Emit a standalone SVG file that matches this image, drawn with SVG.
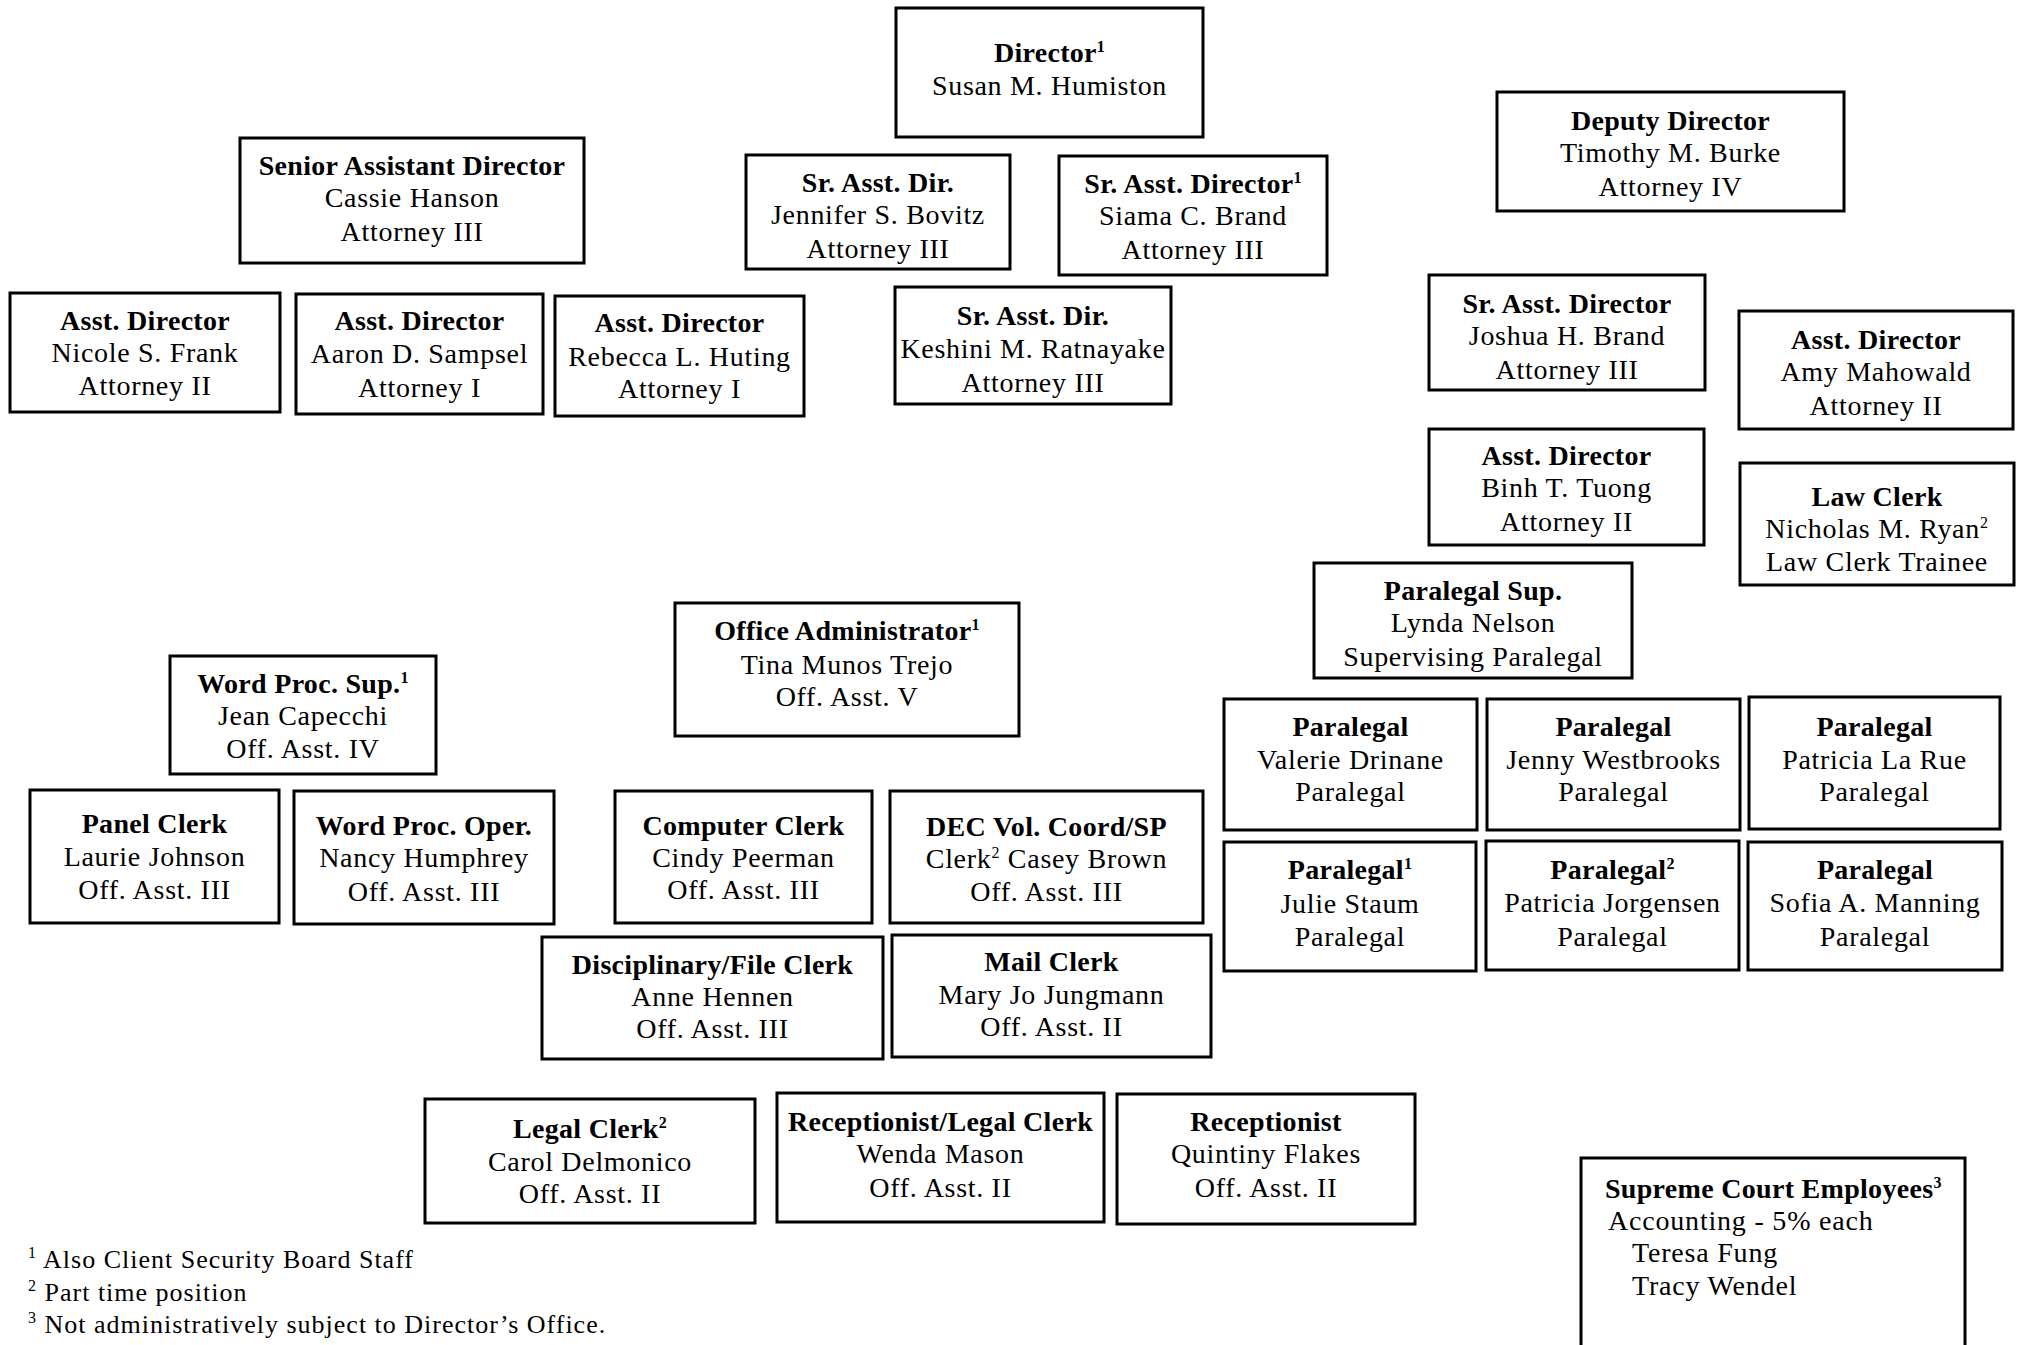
<svg xmlns="http://www.w3.org/2000/svg" width="2020" height="1345" viewBox="0 0 2020 1345">
<style>
.box{fill:#fff;stroke:#000;stroke-width:3}
text{font-family:"Liberation Serif","Times New Roman",serif;font-size:28px;fill:#000}
.t{text-anchor:middle;letter-spacing:0.7px}
.b{font-weight:bold;letter-spacing:0.3px}
.sup{font-size:16px}
.fn{font-size:26px;letter-spacing:1px}
.sc{letter-spacing:0.8px}
</style>
<rect width="2020" height="1345" fill="#fff"/>
<g id="connectors"></g>

<g id="director"><rect class="box" x="896" y="8" width="307" height="129"/>
<text class="t" x="1049.5" y="62"><tspan class="b">Director</tspan><tspan class="sup b" dy="-10">1</tspan></text>
<text class="t" x="1049.5" y="95">Susan M. Humiston</text></g>

<g id="senior-asst-director"><rect class="box" x="240" y="138" width="344" height="125"/>
<text class="t" x="412" y="175"><tspan class="b">Senior Assistant Director</tspan><tspan x="412" y="207">Cassie Hanson</tspan><tspan x="412" y="241">Attorney III</tspan></text></g>

<g id="sr-asst-dir-bovitz"><rect class="box" x="746" y="155" width="264" height="114"/>
<text class="t" x="878" y="192"><tspan class="b">Sr. Asst. Dir.</tspan><tspan x="878" y="224">Jennifer S. Bovitz</tspan><tspan x="878" y="258">Attorney III</tspan></text></g>

<g id="sr-asst-director-brand"><rect class="box" x="1059" y="156" width="268" height="119"/>
<text class="t" x="1193" y="193"><tspan class="b">Sr. Asst. Director</tspan><tspan class="sup b" dy="-10">1</tspan></text>
<text class="t" x="1193" y="225"><tspan>Siama C. Brand</tspan><tspan x="1193" y="259">Attorney III</tspan></text></g>

<g id="deputy-director"><rect class="box" x="1497" y="92" width="347" height="119"/>
<text class="t" x="1670.5" y="130"><tspan class="b">Deputy Director</tspan><tspan x="1670.5" y="162">Timothy M. Burke</tspan><tspan x="1670.5" y="196">Attorney IV</tspan></text></g>

<g id="asst-director-frank"><rect class="box" x="10" y="293" width="270" height="119"/>
<text class="t" x="145" y="330"><tspan class="b">Asst. Director</tspan><tspan x="145" y="362">Nicole S. Frank</tspan><tspan x="145" y="395">Attorney II</tspan></text></g>

<g id="asst-director-sampsel"><rect class="box" x="296" y="294" width="247" height="120"/>
<text class="t" x="419.5" y="330"><tspan class="b">Asst. Director</tspan><tspan x="419.5" y="363">Aaron D. Sampsel</tspan><tspan x="419.5" y="397">Attorney I</tspan></text></g>

<g id="asst-director-huting"><rect class="box" x="555" y="296" width="249" height="120"/>
<text class="t" x="679.5" y="332"><tspan class="b">Asst. Director</tspan><tspan x="679.5" y="366">Rebecca L. Huting</tspan><tspan x="679.5" y="398">Attorney I</tspan></text></g>

<g id="sr-asst-dir-ratnayake"><rect class="box" x="895" y="287" width="276" height="117"/>
<text class="t" x="1033" y="325"><tspan class="b">Sr. Asst. Dir.</tspan><tspan x="1033" y="358">Keshini M. Ratnayake</tspan><tspan x="1033" y="392">Attorney III</tspan></text></g>

<g id="sr-asst-director-joshua"><rect class="box" x="1429" y="275" width="276" height="115"/>
<text class="t" x="1567" y="313"><tspan class="b">Sr. Asst. Director</tspan><tspan x="1567" y="345">Joshua H. Brand</tspan><tspan x="1567" y="379">Attorney III</tspan></text></g>

<g id="asst-director-mahowald"><rect class="box" x="1739" y="311" width="274" height="118"/>
<text class="t" x="1876" y="349"><tspan class="b">Asst. Director</tspan><tspan x="1876" y="381">Amy Mahowald</tspan><tspan x="1876" y="415">Attorney II</tspan></text></g>

<g id="asst-director-tuong"><rect class="box" x="1429" y="429" width="275" height="116"/>
<text class="t" x="1566.5" y="465"><tspan class="b">Asst. Director</tspan><tspan x="1566.5" y="497">Binh T. Tuong</tspan><tspan x="1566.5" y="531">Attorney II</tspan></text></g>

<g id="law-clerk"><rect class="box" x="1740" y="463" width="274" height="122"/>
<text class="t" x="1877" y="506"><tspan class="b">Law Clerk</tspan></text>
<text class="t" x="1877" y="538"><tspan>Nicholas M. Ryan</tspan><tspan class="sup" dy="-10">2</tspan></text>
<text class="t" x="1877" y="571">Law Clerk Trainee</text></g>

<g id="paralegal-sup"><rect class="box" x="1314" y="563" width="318" height="115"/>
<text class="t" x="1473" y="600"><tspan class="b">Paralegal Sup.</tspan><tspan x="1473" y="632">Lynda Nelson</tspan><tspan x="1473" y="666">Supervising Paralegal</tspan></text></g>

<g id="office-administrator"><rect class="box" x="675" y="603" width="344" height="133"/>
<text class="t" x="847" y="640"><tspan class="b">Office Administrator</tspan><tspan class="sup b" dy="-10">1</tspan></text>
<text class="t" x="847" y="674"><tspan>Tina Munos Trejo</tspan><tspan x="847" y="706">Off. Asst. V</tspan></text></g>

<g id="word-proc-sup"><rect class="box" x="170" y="656" width="266" height="118"/>
<text class="t" x="303" y="693"><tspan class="b">Word Proc. Sup.</tspan><tspan class="sup b" dy="-10">1</tspan></text>
<text class="t" x="303" y="725"><tspan>Jean Capecchi</tspan><tspan x="303" y="758">Off. Asst. IV</tspan></text></g>

<g id="paralegal-drinane"><rect class="box" x="1224" y="699" width="253" height="131"/>
<text class="t" x="1350.5" y="736"><tspan class="b">Paralegal</tspan><tspan x="1350.5" y="769">Valerie Drinane</tspan><tspan x="1350.5" y="801">Paralegal</tspan></text></g>

<g id="paralegal-westbrooks"><rect class="box" x="1487" y="699" width="253" height="131"/>
<text class="t" x="1613.5" y="736"><tspan class="b">Paralegal</tspan><tspan x="1613.5" y="769">Jenny Westbrooks</tspan><tspan x="1613.5" y="801">Paralegal</tspan></text></g>

<g id="paralegal-larue"><rect class="box" x="1749" y="697" width="251" height="132"/>
<text class="t" x="1874.5" y="736"><tspan class="b">Paralegal</tspan><tspan x="1874.5" y="769">Patricia La Rue</tspan><tspan x="1874.5" y="801">Paralegal</tspan></text></g>

<g id="paralegal-staum"><rect class="box" x="1224" y="842" width="252" height="129"/>
<text class="t" x="1350" y="879"><tspan class="b">Paralegal</tspan><tspan class="sup b" dy="-10">1</tspan></text>
<text class="t" x="1350" y="913"><tspan>Julie Staum</tspan><tspan x="1350" y="946">Paralegal</tspan></text></g>

<g id="paralegal-jorgensen"><rect class="box" x="1486" y="841" width="253" height="129"/>
<text class="t" x="1612.5" y="879"><tspan class="b">Paralegal</tspan><tspan class="sup b" dy="-10">2</tspan></text>
<text class="t" x="1612.5" y="912"><tspan>Patricia Jorgensen</tspan><tspan x="1612.5" y="946">Paralegal</tspan></text></g>

<g id="paralegal-manning"><rect class="box" x="1748" y="842" width="254" height="128"/>
<text class="t" x="1875" y="879"><tspan class="b">Paralegal</tspan><tspan x="1875" y="912">Sofia A. Manning</tspan><tspan x="1875" y="946">Paralegal</tspan></text></g>

<g id="panel-clerk"><rect class="box" x="30" y="790" width="249" height="133"/>
<text class="t" x="154.5" y="833"><tspan class="b">Panel Clerk</tspan><tspan x="154.5" y="866">Laurie Johnson</tspan><tspan x="154.5" y="899">Off. Asst. III</tspan></text></g>

<g id="word-proc-oper"><rect class="box" x="294" y="791" width="260" height="133"/>
<text class="t" x="424" y="835"><tspan class="b">Word Proc. Oper.</tspan><tspan x="424" y="867">Nancy Humphrey</tspan><tspan x="424" y="901">Off. Asst. III</tspan></text></g>

<g id="computer-clerk"><rect class="box" x="615" y="791" width="257" height="132"/>
<text class="t" x="743.5" y="835"><tspan class="b">Computer Clerk</tspan><tspan x="743.5" y="867">Cindy Peerman</tspan><tspan x="743.5" y="899">Off. Asst. III</tspan></text></g>

<g id="dec-vol-coord"><rect class="box" x="890" y="791" width="313" height="132"/>
<text class="t" x="1046.5" y="836"><tspan class="b">DEC Vol. Coord/SP</tspan></text>
<text class="t" x="1046.5" y="868"><tspan>Clerk</tspan><tspan class="sup" dy="-10">2</tspan><tspan dy="10"> Casey Brown</tspan></text>
<text class="t" x="1046.5" y="901">Off. Asst. III</text></g>

<g id="disciplinary-file-clerk"><rect class="box" x="542" y="937" width="341" height="122"/>
<text class="t" x="712.5" y="974"><tspan class="b">Disciplinary/File Clerk</tspan><tspan x="712.5" y="1006">Anne Hennen</tspan><tspan x="712.5" y="1038">Off. Asst. III</tspan></text></g>

<g id="mail-clerk"><rect class="box" x="892" y="935" width="319" height="122"/>
<text class="t" x="1051.5" y="971"><tspan class="b">Mail Clerk</tspan><tspan x="1051.5" y="1004">Mary Jo Jungmann</tspan><tspan x="1051.5" y="1036">Off. Asst. II</tspan></text></g>

<g id="legal-clerk"><rect class="box" x="425" y="1099" width="330" height="124"/>
<text class="t" x="590" y="1138"><tspan class="b">Legal Clerk</tspan><tspan class="sup b" dy="-10">2</tspan></text>
<text class="t" x="590" y="1171"><tspan>Carol Delmonico</tspan><tspan x="590" y="1203">Off. Asst. II</tspan></text></g>

<g id="receptionist-legal-clerk"><rect class="box" x="777" y="1093" width="327" height="129"/>
<text class="t" x="940.5" y="1131"><tspan class="b">Receptionist/Legal Clerk</tspan><tspan x="940.5" y="1163">Wenda Mason</tspan><tspan x="940.5" y="1197">Off. Asst. II</tspan></text></g>

<g id="receptionist"><rect class="box" x="1117" y="1094" width="298" height="130"/>
<text class="t" x="1266" y="1131"><tspan class="b">Receptionist</tspan><tspan x="1266" y="1163">Quintiny Flakes</tspan><tspan x="1266" y="1197">Off. Asst. II</tspan></text></g>

<g id="supreme-court-employees"><rect class="box" x="1581" y="1158" width="384" height="202"/>
<text class="sc" x="1605" y="1198"><tspan class="b">Supreme Court Employees</tspan><tspan class="sup b" dy="-10">3</tspan></text>
<text class="sc" x="1608" y="1230">Accounting - 5% each</text>
<text class="sc" x="1632" y="1262">Teresa Fung</text>
<text class="sc" x="1632" y="1295">Tracy Wendel</text></g>

<g id="footnotes">
<text class="fn" x="28" y="1268"><tspan class="sup" dy="-10">1</tspan><tspan dy="10"> Also Client Security Board Staff</tspan></text>
<text class="fn" x="28" y="1301"><tspan class="sup" dy="-10">2</tspan><tspan dy="10"> Part time position</tspan></text>
<text class="fn" x="28" y="1333"><tspan class="sup" dy="-10">3</tspan><tspan dy="10"> Not administratively subject to Director’s Office.</tspan></text>
</g>
</svg>
